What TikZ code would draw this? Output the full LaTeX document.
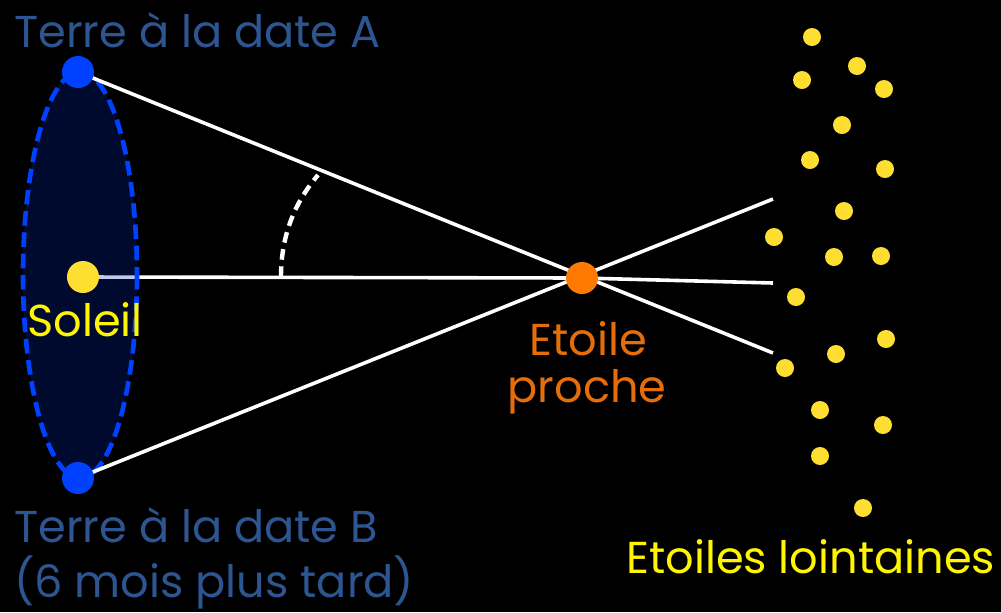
\documentclass[tikz,border=0pt]{standalone}
\usepackage{fontspec}
\setmainfont{Poppins}
\usetikzlibrary{backgrounds}
\definecolor{orbitfill}{RGB}{0,40,190}
\definecolor{orbitline}{RGB}{0,64,255}
\definecolor{suncol}{RGB}{255,222,50}
\definecolor{nearcol}{RGB}{255,122,0}
\definecolor{labelblue}{RGB}{45,85,145}
\definecolor{labelyellow}{RGB}{255,245,0}
\definecolor{labelorange}{RGB}{230,110,10}

\begin{document}
\begin{tikzpicture}[x=0.75pt,y=-0.75pt,
  body/.style={circle,fill=#1,inner sep=0pt,minimum size=24pt},
  far/.style={circle,fill=suncol,inner sep=0pt,minimum size=13.5pt},
  sight/.style={white,line width=2.7pt},
  lbl/.style={text=#1,inner sep=0pt,font=\fontsize{33.5}{40}\selectfont}]
  \useasboundingbox (0,0) rectangle (1001,612);
  % bodies
  \node[body=orbitline] (earthA) at (78,72) {};
  \node[body=orbitline] (earthB) at (78,478) {};
  \node[body=suncol] (sun) at (83,277) {};
  \node[body=nearcol] (near) at (582,278) {};
  \coordinate (endA) at (773,353);
  \coordinate (endB) at (773,199);
  \coordinate (endS) at (773,283);
  % distant stars
  \foreach \x/\y [count=\i] in {812/37,857/66,802/80,884/89,842/125,810/160,885/169,
      844/211,774/237,834/257,881/256,796/297,886/339,836/354,785/368,820/410,
      883/425,820/456,863/508}
    \node[far] (dist\i) at (\x,\y) {};
  % labels
  \node[lbl=labelblue,anchor=base west] (lblA) at (14,47) {Terre à la date A};
  \node[lbl=labelblue,anchor=base west] (lblB) at (14,542) {Terre à la date B};
  \node[lbl=labelblue,anchor=base west] (lblB2) at (14,597) {(6 mois plus tard)};
  \node[lbl=labelyellow,anchor=base west] (lblsun) at (27,336) {Soleil};
  \node[lbl=labelorange,anchor=base] (lblnear) at (588,355) {Etoile};
  \node[lbl=labelorange,anchor=base] (lblnear2) at (587,402) {proche};
  \node[lbl=labelyellow,anchor=base west] (lblfar) at (626,573) {Etoiles lointaines};
  \begin{scope}[on background layer]
    \fill[black] (0,0) rectangle (1001,612);
    \draw[sight] (sun.center) -- (near.center) -- (endS);
    \fill[orbitfill,fill opacity=0.25] (80,275) ellipse [x radius=57,y radius=203];
    \draw[orbitline,line width=3.5pt,dash pattern=on 11pt off 5pt] (80,275) ellipse [x radius=57,y radius=203];
    \draw[sight] (earthA.center) -- (endA);
    \draw[sight] (earthB.center) -- (endB);
  \end{scope}
  % parallax angle
  \draw[white,line width=3.3pt,dash pattern=on 8pt off 5pt] (281,277) .. controls (281,232) and (297,200) .. (318,175);
\end{tikzpicture}
\end{document}
